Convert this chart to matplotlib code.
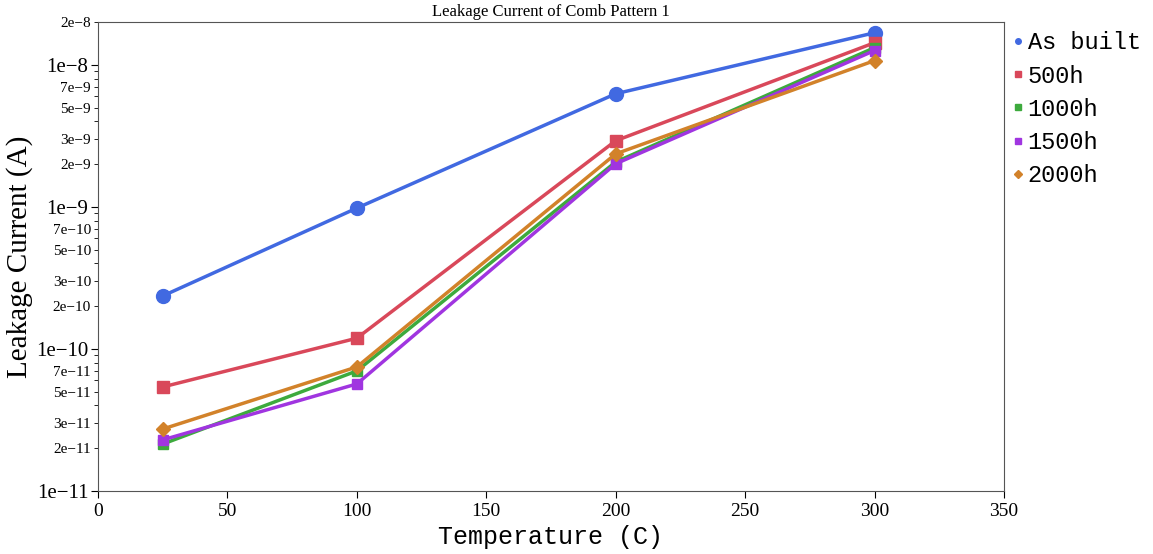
import matplotlib.pyplot as plt
import numpy as np
from matplotlib.lines import Line2D
from matplotlib.ticker import FixedLocator, FixedFormatter

# dane
temp = [25, 100, 200, 300]
as_built = [2.36e-10, 9.8e-10, 6.25e-9, 1.68e-8]
h500 = [5.4e-11, 1.19e-10, 2.92e-9, 1.43e-8]
h1000 = [2.14e-11, 7.0e-11, 2.07e-9, 1.32e-8]
h1500 = [2.29e-11, 5.67e-11, 2.01e-9, 1.26e-8]
h2000 = [2.73e-11, 7.47e-11, 2.36e-9, 1.07e-8]
labels = ['As built', '500h', '1000h', '1500h', '2000h']
colors = ['#4169E1', '#D9485A', '#3DAA3D', '#A035E0', '#D2822A']
markers = ['o', 's', 's', 's', 'D']
msizes = [10, 8, 7, 7, 7]

major_ticks = [1e-11, 1e-10, 1e-9, 1e-8]
major_labels = ['1e\u221211', '1e\u221210', '1e\u22129', '1e\u22128']
minor_labeled = [2e-11, 3e-11, 5e-11, 7e-11, 2e-10, 3e-10, 5e-10, 7e-10,
                 2e-9, 3e-9, 5e-9, 7e-9, 2e-8]
minor_labels = [f'{v:.0e}'.replace('e-', 'e\u2212') for v in minor_labeled]
minor_labels = [s.replace('\u22120', '\u2212') for s in minor_labels]

serif = 'Liberation Serif'
mono = 'Liberation Mono'

fig = plt.figure(figsize=(11.53, 5.54), dpi=100)
ax = fig.add_axes([98/1153, 1-491/554, (1004-98)/1153, (491-22)/554])

series = [as_built, h500, h1000, h1500, h2000]
for s, c, m, ms, l in zip(series, colors, markers, msizes, labels):
    ax.plot(temp, s, color=c, marker=m, markersize=ms, linewidth=2.5, label=l)

ax.set_yscale('log')
ax.set_xlim(0, 350)
ax.set_ylim(1e-11, 2e-8)
ax.set_xticks(np.arange(0, 351, 50))
ax.tick_params(axis='x', labelsize=14, direction='out', length=5)

ax.yaxis.set_major_locator(FixedLocator(major_ticks))
ax.yaxis.set_major_formatter(FixedFormatter(major_labels))
minor_all = []
for d in [1e-11, 1e-10, 1e-9, 1e-8]:
    for k in range(2, 10):
        if d * k <= 2e-8 * 1.0001:
            minor_all.append(d * k)
ax.yaxis.set_minor_locator(FixedLocator(minor_all))
minor_text = []
for v in minor_all:
    idx = [i for i, w in enumerate(minor_labeled) if np.isclose(v, w, rtol=1e-6, atol=0)]
    minor_text.append(minor_labels[idx[0]] if idx else '')
ax.yaxis.set_minor_formatter(FixedFormatter(minor_text))
ax.tick_params(axis='y', which='major', labelsize=15, length=5, pad=2)
ax.tick_params(axis='y', which='minor', labelsize=11, length=3, pad=2)
for t in ax.get_xticklabels() + ax.get_yticklabels() + ax.get_yticklabels(minor=True):
    t.set_fontfamily(serif)

for sp in ax.spines.values():
    sp.set_color('#555555')

ax.set_xlabel('Temperature (C)', fontsize=18, fontfamily=mono, labelpad=4)
ax.set_ylabel('Leakage Current (A)', fontsize=21, fontfamily=serif)
ax.yaxis.set_label_coords(-0.072, 0.5)
ax.set_title('Leakage Current of Comb Pattern 1', fontsize=12, fontfamily=serif, pad=4)

handles = [Line2D([], [], linestyle='none', marker=m, color=c, markersize=4)
           for m, c in zip(markers, colors)]
ax.legend(handles, labels, loc='upper left', bbox_to_anchor=(1.0, 1.0),
          frameon=False, prop={'family': mono, 'size': 17},
          handlelength=0.4, handletextpad=0.2, labelspacing=0.43, borderaxespad=0.0)

fig.savefig('out.png', dpi=100)
